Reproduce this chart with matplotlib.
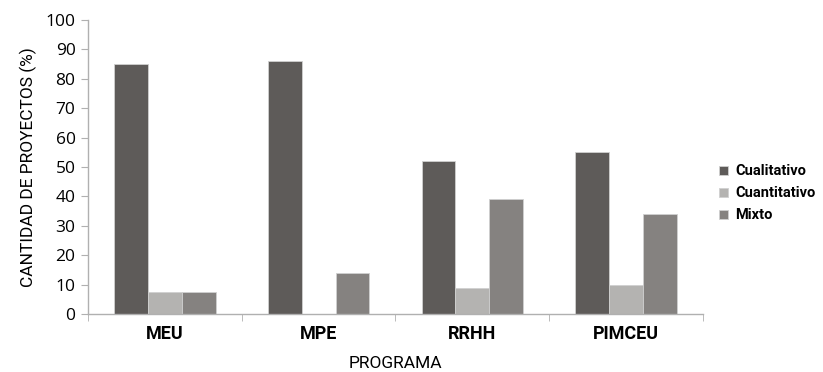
import numpy as np
import matplotlib
matplotlib.use("Agg")
import matplotlib.pyplot as plt
from matplotlib.ticker import FixedLocator

# data
programas = ["MEU", "MPE", "RRHH", "PIMCEU"]
cualitativo = [85, 86, 52, 55]
cuantitativo = [7.5, 0, 9, 10]
mixto = [7.5, 14, 39, 34]
series_names = ["Cualitativo", "Cuantitativo", "Mixto"]

colors = ["#5e5b59", "#b4b3b1", "#858280"]
narrow = ["Roboto", "DejaVu Sans"]

fig = plt.figure(figsize=(8.23, 3.72), dpi=100)
ax = fig.add_axes([0.107, 0.156, 0.747, 0.79])

ind = np.arange(len(programas))
width = 0.22
handles = []
for k, vals in enumerate([cualitativo, cuantitativo, mixto]):
    h = ax.bar(ind + (k - 1) * width, vals, width, color=colors[k],
               edgecolor="#d0d0d0", linewidth=0.6, label=series_names[k])
    handles.append(h)

ax.set_xlim(-0.5, len(programas) - 0.5)
ax.set_ylim(0, 100)
ax.set_yticks(np.arange(0, 101, 10))
ax.set_xticks(ind)
ax.set_xticklabels(programas, family=narrow, fontweight="bold", fontsize=13)
ax.xaxis.set_minor_locator(FixedLocator(np.arange(-0.5, len(programas), 1)))
ax.tick_params(axis="x", which="major", length=0, pad=8)
ax.tick_params(axis="x", which="minor", length=5, color="#b0b0b0", direction="out")
ax.tick_params(axis="y", length=5, color="#b0b0b0", labelsize=12.5, pad=4)
for lab in ax.get_yticklabels():
    lab.set_family(["Open Sans", "DejaVu Sans"])

for s in ["top", "right"]:
    ax.spines[s].set_visible(False)
for s in ["left", "bottom"]:
    ax.spines[s].set_color("#b0b0b0")
    ax.spines[s].set_linewidth(1.0)

ax.set_ylabel("CANTIDAD DE PROYECTOS (%)", family=narrow, fontsize=12.5, labelpad=6)
ax.set_xlabel("PROGRAMA", family=narrow, fontsize=12.5, labelpad=9)

leg = ax.legend(handles, series_names, loc="center left", bbox_to_anchor=(1.01, 0.41),
                frameon=False, handlelength=0.6, handleheight=0.6, handletextpad=0.5,
                labelspacing=0.55, borderpad=0.2,
                prop={"family": narrow, "size": 10.5, "weight": "bold"})

fig.savefig("out.png", dpi=100)
